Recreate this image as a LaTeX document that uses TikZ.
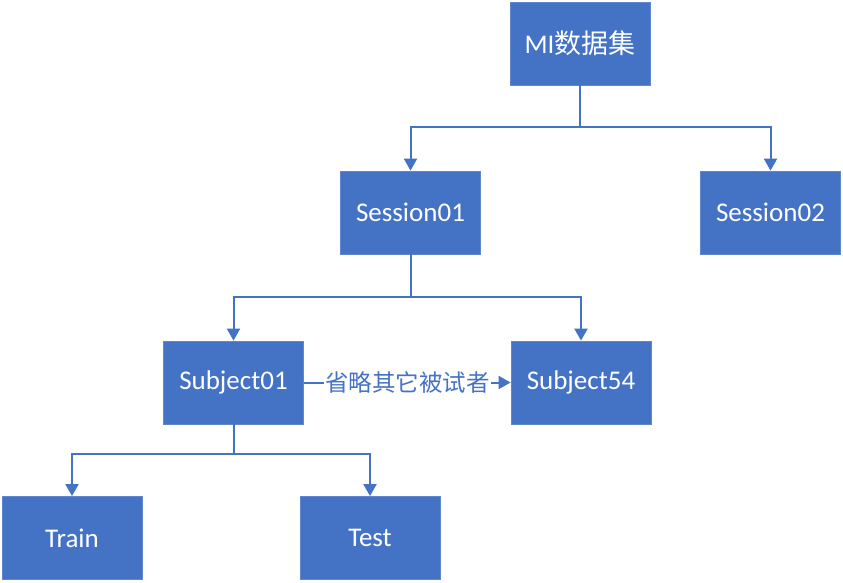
\documentclass[tikz,border=0pt]{standalone}
\usepackage{fontspec}
\setmainfont{Carlito}
\newfontfamily\cjk{Noto Sans CJK SC}
\usetikzlibrary{arrows.meta}
\definecolor{boxblue}{HTML}{4472C4}

\begin{document}
\begin{tikzpicture}
    [x=1pt, y=-1pt,
      box/.style={rectangle, fill = boxblue, draw = boxblue!85!white, line width = .8pt,
        minimum width = 140pt, minimum height = 83pt, inner sep = 0pt,
        text = white, font = \fontsize{27}{30}\selectfont},
      arr/.style={draw = boxblue, line width = 2pt,
        -{Triangle[length = 12pt, width = 13pt]}}]
    \useasboundingbox (0,0) rectangle (843,582);
    \node[box] (mi) at (580,43.5) {MI{\cjk 数据集}};
    \node[box] (ses1) at (410.5,212.5) {Session01};
    \node[box] (ses2) at (770.5,212.5) {Session02};
    \node[box] (sub1) at (233.5,382.5) {Subject01};
    \node[box] (sub54) at (581,382.5) {Subject54};
    \node[box] (train) at (72,538) {Train};
    \node[box] (test) at (370,538) {Test};
    % tree connectors
    \draw[arr] (mi.south) -- ++(0,42) -| (ses1.north);
    \draw[arr] (mi.south) -- ++(0,42) -| (ses2.north);
    \draw[arr] (ses1.south) -- ++(0,43) -| (sub1.north);
    \draw[arr] (ses1.south) -- ++(0,43) -| (sub54.north);
    \draw[arr] (sub1.south) -- ++(0,30) -| (train.north);
    \draw[arr] (sub1.south) -- ++(0,30) -| (test.north);
    % skipped subjects
    \draw[arr] (sub1) -- (sub54)
      node[midway, fill = white, inner sep = 1pt, text = boxblue,
        font = \cjk\fontsize{23.5}{27}\selectfont] (skip) {省略其它被试者};
\end{tikzpicture}
\end{document}
